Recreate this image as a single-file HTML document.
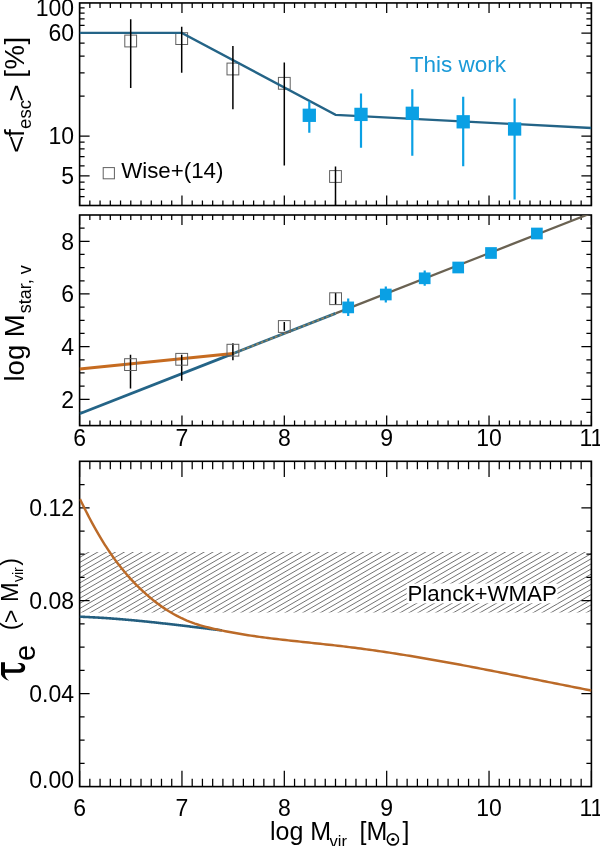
<!DOCTYPE html>
<html><head><meta charset="utf-8"><style>
html,body{margin:0;padding:0;background:#fff;}
svg{display:block;font-family:"Liberation Sans",sans-serif;will-change:transform;}
</style></head><body>
<svg width="600" height="846" viewBox="0 0 600 846">
<rect width="600" height="846" fill="#fff"/>
<defs><pattern id="h" patternUnits="userSpaceOnUse" width="8.86" height="5.12" patternTransform="translate(1.1 552)"><path d="M-8.86 5.12L0 0M0 5.12L8.86 0M8.86 5.12L17.72 0" stroke="#5a5a5a" stroke-width="1.0"/></pattern><clipPath id="c1"><rect x="79.6" y="2.95" width="511.8" height="202.55"/></clipPath><clipPath id="c2"><rect x="79.6" y="215" width="511.8" height="210.6"/></clipPath><clipPath id="c3"><rect x="79.6" y="461.3" width="511.8" height="325.3"/></clipPath></defs>
<clipPath id="hb"><rect x="79.6" y="552" width="511.8" height="60.6"/></clipPath>
<path d="M83.60 550.00L-28.29 614.60M92.46 550.00L-19.43 614.60M101.32 550.00L-10.57 614.60M110.18 550.00L-1.71 614.60M119.04 550.00L7.15 614.60M127.90 550.00L16.01 614.60M136.76 550.00L24.87 614.60M145.62 550.00L33.73 614.60M154.48 550.00L42.59 614.60M163.34 550.00L51.45 614.60M172.20 550.00L60.31 614.60M181.06 550.00L69.17 614.60M189.92 550.00L78.03 614.60M198.78 550.00L86.89 614.60M207.64 550.00L95.75 614.60M216.50 550.00L104.61 614.60M225.36 550.00L113.47 614.60M234.22 550.00L122.33 614.60M243.08 550.00L131.19 614.60M251.94 550.00L140.05 614.60M260.80 550.00L148.91 614.60M269.66 550.00L157.77 614.60M278.52 550.00L166.63 614.60M287.38 550.00L175.49 614.60M296.24 550.00L184.35 614.60M305.10 550.00L193.21 614.60M313.96 550.00L202.07 614.60M322.82 550.00L210.93 614.60M331.68 550.00L219.79 614.60M340.54 550.00L228.65 614.60M349.40 550.00L237.51 614.60M358.26 550.00L246.37 614.60M367.12 550.00L255.23 614.60M375.98 550.00L264.09 614.60M384.84 550.00L272.95 614.60M393.70 550.00L281.81 614.60M402.56 550.00L290.67 614.60M411.42 550.00L299.53 614.60M420.28 550.00L308.39 614.60M429.14 550.00L317.25 614.60M438.00 550.00L326.11 614.60M446.86 550.00L334.97 614.60M455.72 550.00L343.83 614.60M464.58 550.00L352.69 614.60M473.44 550.00L361.55 614.60M482.30 550.00L370.41 614.60M491.16 550.00L379.27 614.60M500.02 550.00L388.13 614.60M508.88 550.00L396.99 614.60M517.74 550.00L405.85 614.60M526.60 550.00L414.71 614.60M535.46 550.00L423.57 614.60M544.32 550.00L432.43 614.60M553.18 550.00L441.29 614.60M562.04 550.00L450.15 614.60M570.90 550.00L459.01 614.60M579.76 550.00L467.87 614.60M588.62 550.00L476.73 614.60M597.48 550.00L485.59 614.60M606.34 550.00L494.45 614.60M615.20 550.00L503.31 614.60M624.06 550.00L512.17 614.60M632.92 550.00L521.03 614.60M641.78 550.00L529.89 614.60M650.64 550.00L538.75 614.60M659.50 550.00L547.61 614.60M668.36 550.00L556.47 614.60M677.22 550.00L565.33 614.60M686.08 550.00L574.19 614.60M694.94 550.00L583.05 614.60" stroke="#6c6c6c" stroke-width="0.95" clip-path="url(#hb)"/>
<rect x="406.7" y="583.5" width="150.8" height="19.8" fill="#fff"/>
<text x="407.5" y="600.5" font-size="22.3" text-anchor="start" fill="#000" >Planck+WMAP</text>
<rect x="79.6" y="2.95" width="511.8" height="202.55" fill="none" stroke="#000" stroke-width="1.6"/>
<path d="M79.6 205.5v-10M79.6 2.95v10M89.84 205.5v-5M89.84 2.95v5M100.07 205.5v-5M100.07 2.95v5M110.31 205.5v-5M110.31 2.95v5M120.54 205.5v-5M120.54 2.95v5M130.78 205.5v-5M130.78 2.95v5M141.02 205.5v-5M141.02 2.95v5M151.25 205.5v-5M151.25 2.95v5M161.49 205.5v-5M161.49 2.95v5M171.72 205.5v-5M171.72 2.95v5M181.96 205.5v-10M181.96 2.95v10M192.2 205.5v-5M192.2 2.95v5M202.43 205.5v-5M202.43 2.95v5M212.67 205.5v-5M212.67 2.95v5M222.9 205.5v-5M222.9 2.95v5M233.14 205.5v-5M233.14 2.95v5M243.38 205.5v-5M243.38 2.95v5M253.61 205.5v-5M253.61 2.95v5M263.85 205.5v-5M263.85 2.95v5M274.08 205.5v-5M274.08 2.95v5M284.32 205.5v-10M284.32 2.95v10M294.56 205.5v-5M294.56 2.95v5M304.79 205.5v-5M304.79 2.95v5M315.03 205.5v-5M315.03 2.95v5M325.26 205.5v-5M325.26 2.95v5M335.5 205.5v-5M335.5 2.95v5M345.74 205.5v-5M345.74 2.95v5M355.97 205.5v-5M355.97 2.95v5M366.21 205.5v-5M366.21 2.95v5M376.44 205.5v-5M376.44 2.95v5M386.68 205.5v-10M386.68 2.95v10M396.92 205.5v-5M396.92 2.95v5M407.15 205.5v-5M407.15 2.95v5M417.39 205.5v-5M417.39 2.95v5M427.62 205.5v-5M427.62 2.95v5M437.86 205.5v-5M437.86 2.95v5M448.1 205.5v-5M448.1 2.95v5M458.33 205.5v-5M458.33 2.95v5M468.57 205.5v-5M468.57 2.95v5M478.8 205.5v-5M478.8 2.95v5M489.04 205.5v-10M489.04 2.95v10M499.28 205.5v-5M499.28 2.95v5M509.51 205.5v-5M509.51 2.95v5M519.75 205.5v-5M519.75 2.95v5M529.98 205.5v-5M529.98 2.95v5M540.22 205.5v-5M540.22 2.95v5M550.46 205.5v-5M550.46 2.95v5M560.69 205.5v-5M560.69 2.95v5M570.93 205.5v-5M570.93 2.95v5M581.16 205.5v-5M581.16 2.95v5M591.4 205.5v-10M591.4 2.95v10" stroke="#000" stroke-width="1.25" fill="none"/>
<path d="M79.6 33.2h10M591.4 33.2h-10M79.6 136.1h10M591.4 136.1h-10M79.6 175.8h10M591.4 175.8h-10M79.6 7.9h5M591.4 7.9h-5M79.6 13.1h5M591.4 13.1h-5M79.6 18.9h5M591.4 18.9h-5M79.6 25.4h5M591.4 25.4h-5M79.6 43.2h5M591.4 43.2h-5M79.6 56h5M591.4 56h-5M79.6 72.8h5M591.4 72.8h-5M79.6 96.2h5M591.4 96.2h-5M79.6 142.2h5M591.4 142.2h-5M79.6 148.9h5M591.4 148.9h-5M79.6 156.7h5M591.4 156.7h-5M79.6 165.9h5M591.4 165.9h-5M79.6 182.2h5M591.4 182.2h-5M79.6 189.3h5M591.4 189.3h-5M79.6 196.7h5M591.4 196.7h-5" stroke="#000" stroke-width="1.25" fill="none"/>
<g clip-path="url(#c1)">
<rect x="124.8" y="35.1" width="11.8" height="11.8" fill="none" stroke="#606060" stroke-width="1"/>
<rect x="175.8" y="32.7" width="11.8" height="11.8" fill="none" stroke="#606060" stroke-width="1"/>
<rect x="227" y="63.1" width="11.8" height="11.8" fill="none" stroke="#606060" stroke-width="1"/>
<rect x="278.4" y="77.4" width="11.8" height="11.8" fill="none" stroke="#606060" stroke-width="1"/>
<rect x="329.6" y="170.6" width="11.8" height="11.8" fill="none" stroke="#606060" stroke-width="1"/>
<path d="M79.6 32.9H181.8L335.6 114.8L591.4 128" stroke="#246487" stroke-width="2.3" fill="none"/>
<path d="M130.7 19.3V88M181.7 26.8V72.7M232.9 46V109.2M284.3 62.5V165.5M335.5 166.5V206" stroke="#000" stroke-width="1.5"/>
</g>
<path d="M309.3 101.5V132.7M361 93.5V147.7M412.3 89.3V155.8M463.2 96.8V166.3M514.6 98.6V199.6" stroke="#0aa0e4" stroke-width="2.2"/>
<rect x="302.65" y="108.65" width="13.3" height="13.3" fill="#0aa0e4"/>
<rect x="354.35" y="107.75" width="13.3" height="13.3" fill="#0aa0e4"/>
<rect x="405.65" y="106.65" width="13.3" height="13.3" fill="#0aa0e4"/>
<rect x="456.55" y="115.15" width="13.3" height="13.3" fill="#0aa0e4"/>
<rect x="507.95" y="122.35" width="13.3" height="13.3" fill="#0aa0e4"/>
<text x="409.8" y="72.2" font-size="22.5" text-anchor="start" fill="#1a9ad8" >This work</text>
<rect x="103.2" y="167.6" width="11.2" height="11.2" fill="none" stroke="#606060" stroke-width="1"/>
<text x="121.2" y="177.5" font-size="22.3" text-anchor="start" fill="#000" >Wise+(14)</text>
<text x="74" y="16.3" font-size="23" text-anchor="end" fill="#000" >100</text>
<text x="74" y="40.9" font-size="23" text-anchor="end" fill="#000" >60</text>
<text x="74" y="144.3" font-size="23" text-anchor="end" fill="#000" >10</text>
<text x="74" y="184.3" font-size="23" text-anchor="end" fill="#000" >5</text>
<rect x="79.6" y="215" width="511.8" height="210.6" fill="none" stroke="#000" stroke-width="1.6"/>
<path d="M79.6 425.6v-10M79.6 215v10M89.84 425.6v-5M89.84 215v5M100.07 425.6v-5M100.07 215v5M110.31 425.6v-5M110.31 215v5M120.54 425.6v-5M120.54 215v5M130.78 425.6v-5M130.78 215v5M141.02 425.6v-5M141.02 215v5M151.25 425.6v-5M151.25 215v5M161.49 425.6v-5M161.49 215v5M171.72 425.6v-5M171.72 215v5M181.96 425.6v-10M181.96 215v10M192.2 425.6v-5M192.2 215v5M202.43 425.6v-5M202.43 215v5M212.67 425.6v-5M212.67 215v5M222.9 425.6v-5M222.9 215v5M233.14 425.6v-5M233.14 215v5M243.38 425.6v-5M243.38 215v5M253.61 425.6v-5M253.61 215v5M263.85 425.6v-5M263.85 215v5M274.08 425.6v-5M274.08 215v5M284.32 425.6v-10M284.32 215v10M294.56 425.6v-5M294.56 215v5M304.79 425.6v-5M304.79 215v5M315.03 425.6v-5M315.03 215v5M325.26 425.6v-5M325.26 215v5M335.5 425.6v-5M335.5 215v5M345.74 425.6v-5M345.74 215v5M355.97 425.6v-5M355.97 215v5M366.21 425.6v-5M366.21 215v5M376.44 425.6v-5M376.44 215v5M386.68 425.6v-10M386.68 215v10M396.92 425.6v-5M396.92 215v5M407.15 425.6v-5M407.15 215v5M417.39 425.6v-5M417.39 215v5M427.62 425.6v-5M427.62 215v5M437.86 425.6v-5M437.86 215v5M448.1 425.6v-5M448.1 215v5M458.33 425.6v-5M458.33 215v5M468.57 425.6v-5M468.57 215v5M478.8 425.6v-5M478.8 215v5M489.04 425.6v-10M489.04 215v10M499.28 425.6v-5M499.28 215v5M509.51 425.6v-5M509.51 215v5M519.75 425.6v-5M519.75 215v5M529.98 425.6v-5M529.98 215v5M540.22 425.6v-5M540.22 215v5M550.46 425.6v-5M550.46 215v5M560.69 425.6v-5M560.69 215v5M570.93 425.6v-5M570.93 215v5M581.16 425.6v-5M581.16 215v5M591.4 425.6v-10M591.4 215v10" stroke="#000" stroke-width="1.25" fill="none"/>
<path d="M79.6 399.28h10M591.4 399.28h-10M79.6 346.62h10M591.4 346.62h-10M79.6 293.98h10M591.4 293.98h-10M79.6 241.32h10M591.4 241.32h-10M79.6 412.44h5M591.4 412.44h-5M79.6 386.11h5M591.4 386.11h-5M79.6 372.95h5M591.4 372.95h-5M79.6 359.79h5M591.4 359.79h-5M79.6 333.46h5M591.4 333.46h-5M79.6 320.3h5M591.4 320.3h-5M79.6 307.14h5M591.4 307.14h-5M79.6 280.81h5M591.4 280.81h-5M79.6 267.65h5M591.4 267.65h-5M79.6 254.49h5M591.4 254.49h-5M79.6 228.16h5M591.4 228.16h-5" stroke="#000" stroke-width="1.25" fill="none"/>
<g clip-path="url(#c2)">
<path d="M79.6 413.72L233 353.58" stroke="#246487" stroke-width="2.8" fill="none"/>
<path d="M232 353.98L335.6 313.36" stroke="#2f6a86" stroke-width="2.8" fill="none"/>
<path d="M335.6 313.36L591.4 213.09" stroke="#6a6252" stroke-width="2.2" fill="none"/>
<path d="M79.6 369.0L233 353.58" stroke="#c66b20" stroke-width="3.0" fill="none"/>
<path d="M233 353.58L335.6 313.36" stroke="#9c8458" stroke-width="1.5" stroke-dasharray="2.6 2.4" fill="none"/>
<path d="M130.5 354.8V388.4M181.7 354.8V380.7M232.9 343.2V360.2M284.3 322V330.8M335.6 292.9V304.7" stroke="#000" stroke-width="1.5"/>
<rect x="124.6" y="358.7" width="11.8" height="11.8" fill="none" stroke="#606060" stroke-width="1"/>
<rect x="175.8" y="353.4" width="11.8" height="11.8" fill="none" stroke="#606060" stroke-width="1"/>
<rect x="227" y="344.3" width="11.8" height="11.8" fill="none" stroke="#606060" stroke-width="1"/>
<rect x="278.4" y="320.6" width="11.8" height="11.8" fill="none" stroke="#606060" stroke-width="1"/>
<rect x="329.7" y="292.8" width="11.8" height="11.8" fill="none" stroke="#606060" stroke-width="1"/>
<path d="M348.2 298.6V316M385.8 286.5V302.5M424.7 270.5V285.8" stroke="#0aa0e4" stroke-width="2.2"/>
<rect x="342.35" y="301.55" width="11.7" height="11.7" fill="#0aa0e4"/>
<rect x="379.95" y="288.65" width="11.7" height="11.7" fill="#0aa0e4"/>
<rect x="418.85" y="272.45" width="11.7" height="11.7" fill="#0aa0e4"/>
<rect x="452.35" y="261.65" width="11.7" height="11.7" fill="#0aa0e4"/>
<rect x="485.15" y="247.15" width="11.7" height="11.7" fill="#0aa0e4"/>
<rect x="531.05" y="227.65" width="11.7" height="11.7" fill="#0aa0e4"/>
</g>
<text x="74" y="249.72" font-size="23" text-anchor="end" fill="#000" >8</text>
<text x="74" y="302.38" font-size="23" text-anchor="end" fill="#000" >6</text>
<text x="74" y="355.02" font-size="23" text-anchor="end" fill="#000" >4</text>
<text x="74" y="407.68" font-size="23" text-anchor="end" fill="#000" >2</text>
<text x="79.6" y="446" font-size="23" text-anchor="middle" fill="#000" >6</text>
<text x="181.96" y="446" font-size="23" text-anchor="middle" fill="#000" >7</text>
<text x="284.32" y="446" font-size="23" text-anchor="middle" fill="#000" >8</text>
<text x="386.68" y="446" font-size="23" text-anchor="middle" fill="#000" >9</text>
<text x="489.04" y="446" font-size="23" text-anchor="middle" fill="#000" >10</text>
<text x="591.4" y="446" font-size="23" text-anchor="middle" fill="#000" >11</text>
<rect x="79.6" y="461.3" width="511.8" height="325.3" fill="none" stroke="#000" stroke-width="1.6"/>
<path d="M79.6 786.6v-15.8M79.6 461.3v15.8M89.84 786.6v-7.9M89.84 461.3v7.9M100.07 786.6v-7.9M100.07 461.3v7.9M110.31 786.6v-7.9M110.31 461.3v7.9M120.54 786.6v-7.9M120.54 461.3v7.9M130.78 786.6v-7.9M130.78 461.3v7.9M141.02 786.6v-7.9M141.02 461.3v7.9M151.25 786.6v-7.9M151.25 461.3v7.9M161.49 786.6v-7.9M161.49 461.3v7.9M171.72 786.6v-7.9M171.72 461.3v7.9M181.96 786.6v-15.8M181.96 461.3v15.8M192.2 786.6v-7.9M192.2 461.3v7.9M202.43 786.6v-7.9M202.43 461.3v7.9M212.67 786.6v-7.9M212.67 461.3v7.9M222.9 786.6v-7.9M222.9 461.3v7.9M233.14 786.6v-7.9M233.14 461.3v7.9M243.38 786.6v-7.9M243.38 461.3v7.9M253.61 786.6v-7.9M253.61 461.3v7.9M263.85 786.6v-7.9M263.85 461.3v7.9M274.08 786.6v-7.9M274.08 461.3v7.9M284.32 786.6v-15.8M284.32 461.3v15.8M294.56 786.6v-7.9M294.56 461.3v7.9M304.79 786.6v-7.9M304.79 461.3v7.9M315.03 786.6v-7.9M315.03 461.3v7.9M325.26 786.6v-7.9M325.26 461.3v7.9M335.5 786.6v-7.9M335.5 461.3v7.9M345.74 786.6v-7.9M345.74 461.3v7.9M355.97 786.6v-7.9M355.97 461.3v7.9M366.21 786.6v-7.9M366.21 461.3v7.9M376.44 786.6v-7.9M376.44 461.3v7.9M386.68 786.6v-15.8M386.68 461.3v15.8M396.92 786.6v-7.9M396.92 461.3v7.9M407.15 786.6v-7.9M407.15 461.3v7.9M417.39 786.6v-7.9M417.39 461.3v7.9M427.62 786.6v-7.9M427.62 461.3v7.9M437.86 786.6v-7.9M437.86 461.3v7.9M448.1 786.6v-7.9M448.1 461.3v7.9M458.33 786.6v-7.9M458.33 461.3v7.9M468.57 786.6v-7.9M468.57 461.3v7.9M478.8 786.6v-7.9M478.8 461.3v7.9M489.04 786.6v-15.8M489.04 461.3v15.8M499.28 786.6v-7.9M499.28 461.3v7.9M509.51 786.6v-7.9M509.51 461.3v7.9M519.75 786.6v-7.9M519.75 461.3v7.9M529.98 786.6v-7.9M529.98 461.3v7.9M540.22 786.6v-7.9M540.22 461.3v7.9M550.46 786.6v-7.9M550.46 461.3v7.9M560.69 786.6v-7.9M560.69 461.3v7.9M570.93 786.6v-7.9M570.93 461.3v7.9M581.16 786.6v-7.9M581.16 461.3v7.9M591.4 786.6v-15.8M591.4 461.3v15.8" stroke="#000" stroke-width="1.25" fill="none"/>
<path d="M79.6 693.66h10M591.4 693.66h-10M79.6 600.71h10M591.4 600.71h-10M79.6 507.77h10M591.4 507.77h-10M79.6 763.36h5M591.4 763.36h-5M79.6 740.13h5M591.4 740.13h-5M79.6 716.89h5M591.4 716.89h-5M79.6 670.42h5M591.4 670.42h-5M79.6 647.19h5M591.4 647.19h-5M79.6 623.95h5M591.4 623.95h-5M79.6 577.48h5M591.4 577.48h-5M79.6 554.24h5M591.4 554.24h-5M79.6 531.01h5M591.4 531.01h-5M79.6 484.54h5M591.4 484.54h-5" stroke="#000" stroke-width="1.25" fill="none"/>
<g clip-path="url(#c3)">
<path d="M79.58 616.71 80.30 616.73 81.02 616.76 81.74 616.79 82.46 616.82 83.18 616.85 83.90 616.88 84.62 616.91 85.34 616.94 86.06 616.97 86.78 617.00 87.50 617.04 88.22 617.07 88.94 617.11 89.66 617.14 90.37 617.18 91.09 617.21 91.81 617.25 92.53 617.29 93.25 617.33 93.97 617.36 94.69 617.40 95.41 617.44 96.13 617.49 96.84 617.53 97.56 617.57 98.28 617.61 99.00 617.65 99.72 617.70 100.44 617.74 101.15 617.79 101.87 617.83 102.59 617.88 103.31 617.92 104.03 617.97 104.75 618.02 105.46 618.07 106.18 618.12 106.90 618.16 107.62 618.21 108.33 618.26 109.05 618.32 109.77 618.37 110.49 618.42 111.21 618.47 111.92 618.52 112.64 618.58 113.36 618.63 114.08 618.68 114.79 618.74 115.51 618.79 116.23 618.85 116.94 618.91 117.66 618.96 118.38 619.02 119.10 619.08 119.81 619.14 120.53 619.20 121.25 619.25 121.96 619.31 122.68 619.37 123.40 619.43 124.11 619.50 124.83 619.56 125.55 619.62 126.26 619.68 126.98 619.74 127.70 619.81 128.41 619.87 129.13 619.93 129.85 620.00 130.56 620.06 131.28 620.13 132.00 620.19 132.71 620.26 133.43 620.33 134.15 620.39 134.86 620.46 135.58 620.53 136.29 620.60 137.01 620.66 137.73 620.73 138.44 620.80 139.16 620.87 139.87 620.94 140.59 621.01 141.31 621.08 142.02 621.15 142.74 621.22 143.45 621.29 144.17 621.37 144.88 621.44 145.60 621.51 146.32 621.58 147.03 621.66 147.75 621.73 148.46 621.80 149.18 621.88 149.89 621.95 150.61 622.03 151.32 622.10 152.04 622.18 152.75 622.25 153.47 622.33 154.19 622.41 154.90 622.48 155.62 622.56 156.33 622.64 157.05 622.71 157.76 622.79 158.48 622.87 159.19 622.95 159.91 623.03 160.62 623.10 161.34 623.18 162.05 623.26 162.77 623.34 163.48 623.42 164.19 623.50 164.91 623.58 165.62 623.66 166.34 623.74 167.05 623.82 167.77 623.90 168.48 623.98 169.20 624.07 169.91 624.15 170.63 624.23 171.34 624.31 172.06 624.39 172.77 624.48 173.48 624.56 174.20 624.64 174.91 624.72 175.63 624.81 176.34 624.89 177.06 624.97 177.77 625.06 178.49 625.14 179.20 625.23 179.91 625.31 180.63 625.39 181.34 625.48 182.06 625.56 182.77 625.65 183.48 625.73 184.20 625.82 184.91 625.90 185.63 625.99 186.34 626.07 187.05 626.16 187.77 626.24 188.48 626.33 189.20 626.41 189.91 626.50 190.62 626.59 191.34 626.67 192.05 626.76 192.77 626.84 193.48 626.93 194.19 627.02 194.91 627.10 195.62 627.19 196.33 627.28 197.05 627.36 197.76 627.45 198.48 627.54 199.19 627.62 199.90 627.71 200.62 627.80 201.33 627.88 202.04 627.97 202.76 628.06 203.47 628.14 204.19 628.23 204.90 628.32 205.61 628.40 206.33 628.49 207.04 628.58 207.75 628.67 208.47 628.75 209.18 628.84 209.89 628.93 210.61 629.01 211.32 629.10 212.03 629.19 212.75 629.27 213.46 629.36 214.17 629.45 214.89 629.53 215.60 629.62 216.31 629.71 217.03 629.79 217.74 629.88 218.45 629.97 219.17 630.05 219.88 630.14 220.59 630.23 221.31 630.31 222.02 630.40" stroke="#235e7f" stroke-width="2.6" fill="none"/>
<path d="M79.98 499.12 81.25 501.72 82.52 504.31 83.80 506.90 85.10 509.49 86.41 512.07 87.73 514.64 89.06 517.21 90.41 519.77 91.78 522.32 93.16 524.86 94.55 527.39 95.97 529.91 97.40 532.42 98.85 534.92 100.33 537.40 101.82 539.88 103.33 542.34 104.87 544.78 106.43 547.21 108.01 549.63 109.62 552.03 111.25 554.41 112.91 556.78 114.59 559.12 116.30 561.45 118.04 563.76 119.81 566.05 121.61 568.31 123.43 570.56 125.29 572.78 127.18 574.98 129.09 577.16 131.04 579.32 133.02 581.44 135.03 583.55 137.07 585.62 139.14 587.68 141.24 589.70 143.38 591.69 145.55 593.66 147.75 595.60 149.98 597.50 152.24 599.37 154.54 601.20 156.86 603.00 159.22 604.75 161.60 606.46 164.01 608.12 166.45 609.73 168.91 611.29 171.40 612.79 173.92 614.24 176.46 615.63 179.02 616.96 181.61 618.23 184.22 619.43 186.85 620.56 189.51 621.63 192.18 622.63 194.87 623.58 197.58 624.46 200.31 625.30 203.05 626.09 205.80 626.84 208.57 627.55 211.35 628.23 214.13 628.88 216.93 629.50 219.73 630.09 222.54 630.67 225.36 631.23 228.18 631.78 231.01 632.31 233.84 632.82 236.67 633.32 239.52 633.81 242.36 634.28 245.21 634.73 248.07 635.18 250.93 635.61 253.79 636.03 256.66 636.44 259.53 636.84 262.40 637.23 265.28 637.61 268.16 637.98 271.04 638.35 273.92 638.70 276.81 639.05 279.70 639.39 282.59 639.73 285.49 640.06 288.38 640.39 291.28 640.71 294.17 641.03 297.07 641.34 299.97 641.65 302.87 641.96 305.78 642.27 308.68 642.58 311.58 642.89 314.48 643.19 317.38 643.50 320.28 643.81 323.18 644.12 326.08 644.44 328.98 644.75 331.88 645.07 334.77 645.40 337.67 645.73 340.56 646.06 343.45 646.40 346.34 646.75 349.22 647.10 352.11 647.46 354.99 647.83 357.87 648.20 360.75 648.58 363.62 648.96 366.50 649.35 369.37 649.74 372.24 650.14 375.11 650.55 377.98 650.96 380.84 651.38 383.71 651.80 386.57 652.22 389.43 652.66 392.29 653.09 395.15 653.53 398.01 653.98 400.86 654.43 403.72 654.89 406.57 655.35 409.42 655.81 412.28 656.28 415.13 656.75 417.97 657.23 420.82 657.71 423.67 658.19 426.52 658.68 429.36 659.18 432.20 659.67 435.05 660.17 437.89 660.67 440.73 661.18 443.57 661.69 446.41 662.20 449.25 662.72 452.09 663.24 454.93 663.76 457.77 664.29 460.61 664.82 463.45 665.35 466.29 665.88 469.12 666.42 471.96 666.96 474.80 667.50 477.63 668.04 480.47 668.58 483.31 669.13 486.14 669.68 488.98 670.23 491.82 670.78 494.65 671.34 497.49 671.89 500.33 672.45 503.17 673.01 506.00 673.57 508.84 674.13 511.68 674.70 514.52 675.26 517.36 675.82 520.20 676.39 523.04 676.96 525.88 677.52 528.72 678.09 531.57 678.66 534.41 679.23 537.25 679.80 540.10 680.37 542.94 680.94 545.79 681.51 548.64 682.08 551.49 682.65 554.34 683.21 557.19 683.78 560.04 684.35 562.89 684.92 565.75 685.49 568.60 686.06 571.46 686.62 574.32 687.19 577.18 687.75 580.04 688.32 582.90 688.88 585.76 689.44 588.63 690.00 591.50 690.56" stroke="#bb6a28" stroke-width="2.45" fill="none" stroke-linejoin="round"/>
</g>
<text x="74" y="515.7" font-size="23" text-anchor="end" fill="#000" >0.12</text>
<text x="74" y="608.8" font-size="23" text-anchor="end" fill="#000" >0.08</text>
<text x="74" y="701.9" font-size="23" text-anchor="end" fill="#000" >0.04</text>
<text x="74" y="787.5" font-size="23" text-anchor="end" fill="#000" >0.00</text>
<text x="79.6" y="816" font-size="23" text-anchor="middle" fill="#000" >6</text>
<text x="181.96" y="816" font-size="23" text-anchor="middle" fill="#000" >7</text>
<text x="284.32" y="816" font-size="23" text-anchor="middle" fill="#000" >8</text>
<text x="386.68" y="816" font-size="23" text-anchor="middle" fill="#000" >9</text>
<text x="489.04" y="816" font-size="23" text-anchor="middle" fill="#000" >10</text>
<text x="591.4" y="816" font-size="23" text-anchor="middle" fill="#000" >11</text>
<text x="270" y="840" font-size="25" text-anchor="start" fill="#000" >log M</text>
<text x="329.6" y="846.8" font-size="16.5" text-anchor="start" fill="#000" >vir</text>
<text x="359.5" y="840" font-size="25" text-anchor="start" fill="#000" >[M</text>
<circle cx="392.9" cy="839.4" r="5.6" fill="none" stroke="#000" stroke-width="1.5"/><circle cx="392.9" cy="839.4" r="1.7" fill="#000"/>
<text x="402.5" y="840" font-size="25" text-anchor="start" fill="#000" >]</text>
<g transform="translate(23.6 152.7) rotate(-90)">
<text transform="translate(-0.3 1.2) scale(1.08 0.91)" x="0" y="0" font-size="27.5">&lt;</text>
<text x="15.6" y="0" font-size="27.5" text-anchor="start" fill="#000" >f</text>
<text x="23.8" y="7.5" font-size="18.5" text-anchor="start" fill="#000" >esc</text>
<text transform="translate(50.9 1.2) scale(1.08 0.91)" x="0" y="0" font-size="27.5">&gt;</text>
<text x="74.9" y="0" font-size="27.5" text-anchor="start" fill="#000" >[</text>
<text x="83.2" y="0" font-size="27.5" text-anchor="start" fill="#000" >%</text>
<text x="108.2" y="0" font-size="27.5" text-anchor="start" fill="#000" >]</text>
</g>
<g transform="translate(24 381.5) rotate(-90)">
<text x="0" y="0" font-size="27.5" text-anchor="start" fill="#000" >log M<tspan font-size="18" dy="7.2" dx="1">star, v</tspan></text>
</g>
<g transform="translate(17.5 630.2) rotate(-90)">
<text x="0" y="0" font-size="23.5" text-anchor="start" fill="#000" >(<tspan dx="-1" dy="1.3">&gt;</tspan><tspan dx="1" dy="-1.3"> M</tspan><tspan font-size="14" dy="5.9" dx="0.5">vir</tspan><tspan dy="-5.9" dx="1.4">)</tspan></text>
</g>
<g transform="translate(35 661) rotate(-90)">
<text x="0" y="0" font-size="29" text-anchor="start" fill="#000" >e</text>
</g>
<path d="M1 662.25L5 662.25L5 669.3L19 669.3C20.5 669.1 21.5 668.2 21.5 667C21.5 665.5 20 664.3 17.25 663.2C20.2 662.7 23 663 24.5 665C25.6 666.6 25.4 669.6 24 671.1C23 672.3 21.5 672.8 20 672.8L5 672.8L5 674C5 676.2 6.6 679 9.2 680.8C5.2 679.6 2 677.5 1 674.5Z" fill="#000"/>
</svg></body></html>
